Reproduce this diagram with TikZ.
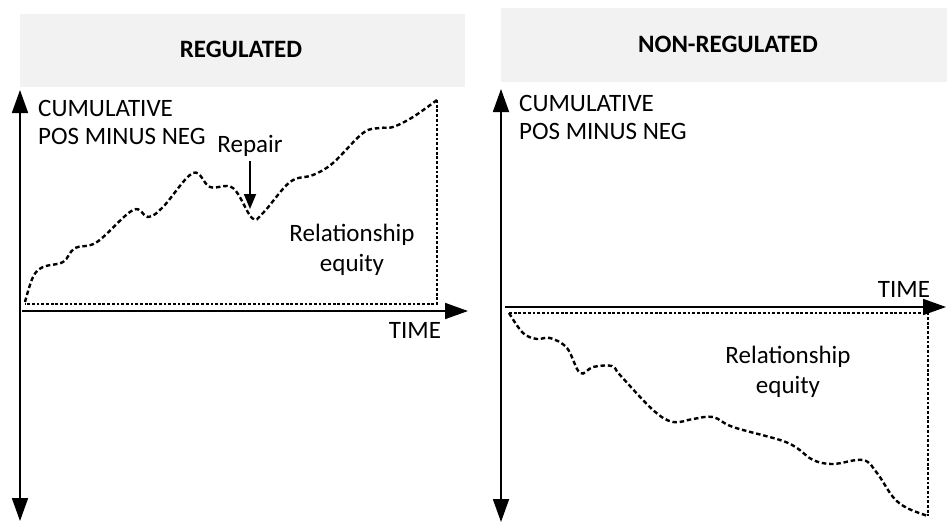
\documentclass[tikz,border=0pt]{standalone}
\usepackage{fontspec}
\setmainfont{Carlito}
\usetikzlibrary{arrows.meta}
\definecolor{headgray}{RGB}{242,242,242}

\begin{document}
\begin{tikzpicture}[x=1pt,y=-1pt,
	axis/.style={line width=1.8pt,{Triangle[length=23pt,width=16pt]}-{Triangle[length=23pt,width=16pt]}},
	haxis/.style={line width=1.8pt,-{Triangle[length=23pt,width=16pt]}},
	trend/.style={line width=2.4pt,dash pattern=on 4.5pt off 2.8pt},
	equity/.style={line width=2.1pt,dash pattern=on 2.8pt off 1.9pt},
	header/.style={fill=headgray},
	lbl/.style={font=\fontsize{25}{28}\selectfont,inner sep=0pt}]
	\useasboundingbox (0,0) rectangle (947,522);
	%\draw[help lines] (0,0) grid[step=50] (947,522);

	% regulated
	\fill[header] (20,14) rectangle (465,87);
	\node[lbl,font=\fontsize{25}{28}\selectfont\bfseries] (reg) at (241,49) {REGULATED};
	\draw[axis] (20,521) -- (20,90);
	\draw[haxis] (22,311) -- (468,311);
	\node[lbl,align=left,anchor=base west] (ylabA) at (38,144) {CUMULATIVE\\POS MINUS NEG};
	\node[lbl] (timeA) at (415,330) {TIME};
	\draw[equity] (437,100) -- (437,304) -- (25,304);
	\draw[trend] plot[smooth,tension=0.6] coordinates {(25,302) (33,277) (43,267) (63,262)
		(75,248) (97,242) (133,210) (148,217) (163,207) (193,173) (210,187) (233,188)
		(252,218) (263,213) (290,182) (313,175) (333,163) (363,133) (380,128) (393,127)
		(413,117) (437,100)};
	\node[lbl] (repair) at (250,146) {Repair};
	\coordinate (dip) at (250,209);
	\draw[line width=1.8pt,-{Triangle[length=15pt,width=12pt]}] (repair.south) ++(0,4) -- (dip);
	\node[lbl,align=center,font=\fontsize{25}{30}\selectfont] (eqA) at (352,250) {Relationship\\equity};

	% non-regulated
	\fill[header] (501,8) rectangle (947,82);
	\node[lbl,font=\fontsize{25}{28}\selectfont\bfseries] (nonreg) at (728,44) {NON-REGULATED};
	\draw[axis] (501,522) -- (501,89);
	\draw[haxis] (505,307) -- (946,307);
	\node[lbl,align=left,anchor=base west] (ylabB) at (519,139) {CUMULATIVE\\POS MINUS NEG};
	\node[lbl] (timeB) at (904,289) {TIME};
	\draw[equity] (509,313) -- (928,313) -- (928,516);
	\draw[trend] plot[smooth,tension=0.6] coordinates {(509,313) (523,333) (537,339) (550,338)
		(567,348) (580,373) (593,367) (612,366) (620,375) (653,410) (673,422) (693,419)
		(713,417) (733,427) (780,440) (797,448) (813,460) (833,464) (863,460) (877,473)
		(893,497) (907,508) (928,516)};
	\node[lbl,align=center,font=\fontsize{25}{30}\selectfont] (eqB) at (788,372) {Relationship\\equity};
\end{tikzpicture}
\end{document}
